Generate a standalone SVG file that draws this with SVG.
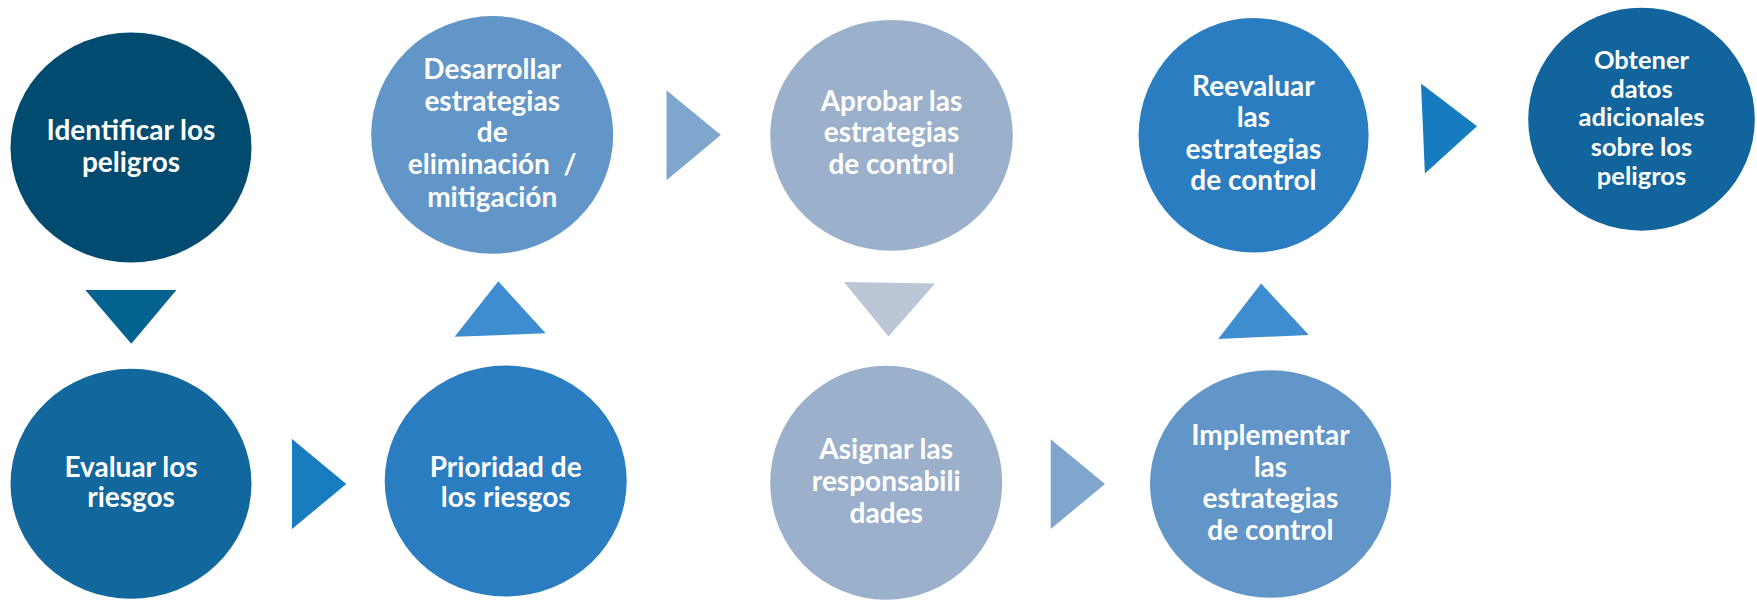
<svg xmlns="http://www.w3.org/2000/svg" width="1757" height="606" viewBox="0 0 1757 606">
<style>
.t{font-family:Lato,"Noto Sans","Liberation Sans",sans-serif;font-weight:bold;font-size:28px;fill:#ffffff;text-anchor:middle}
.s{font-size:25.5px}
</style>
<rect width="1757" height="606" fill="#ffffff"/>
<g id="connectors">
<polygon points="85.3,290.1 176.4,290.1 131.3,343.7" fill="#03628F"/>
<polygon points="292,439 292,528.9 346.3,484.1" fill="#177DBF"/>
<polygon points="454.6,336.8 498.3,281.3 545.7,333.3" fill="#3E8DD0"/>
<polygon points="666.5,90.3 666.5,180.3 720.8,135.1" fill="#7FA6CD"/>
<polygon points="844,282 935.1,283.6 888.5,336.4" fill="#BBC6D6"/>
<polygon points="1050.7,439.3 1050.7,528.9 1105,484.1" fill="#80A6CD"/>
<polygon points="1218.2,339.1 1261.1,283.6 1308.9,334.9" fill="#3E8DD0"/>
<polygon points="1421,83.4 1424.9,173.4 1477,126.3" fill="#177BBF"/>
</g>
<g id="n1">
<ellipse cx="131" cy="147.5" rx="120.5" ry="115" fill="#024B70"/>
<text class="t" x="131" y="140">Identificar los</text>
<text class="t" x="131" y="172">peligros</text>
</g>
<g id="n2">
<ellipse cx="131" cy="483.7" rx="120.5" ry="115" fill="#12679D"/>
<text class="t" x="131" y="476.5">Evaluar los</text>
<text class="t" x="131" y="507">riesgos</text>
</g>
<g id="n3">
<ellipse cx="505.7" cy="481" rx="121" ry="115.5" fill="#2B7DC1"/>
<text class="t" x="505.7" y="476.5">Prioridad de</text>
<text class="t" x="505.7" y="507">los riesgos</text>
</g>
<g id="n4">
<ellipse cx="492.2" cy="134.9" rx="121" ry="118.8" fill="#6296C8"/>
<text class="t" x="492.2" y="79.2">Desarrollar</text>
<text class="t" x="492.2" y="111">estrategias</text>
<text class="t" x="492.2" y="142.4">de</text>
<text class="t" x="492.2" y="174" xml:space="preserve">eliminación  /</text>
<text class="t" x="492.2" y="206.7">mitigación</text>
</g>
<g id="n5">
<ellipse cx="891.5" cy="135.3" rx="121.3" ry="115.4" fill="#9BB0CB"/>
<text class="t" x="891.5" y="111">Aprobar las</text>
<text class="t" x="891.5" y="142.4">estrategias</text>
<text class="t" x="891.5" y="174.1">de control</text>
</g>
<g id="n6">
<ellipse cx="886.2" cy="482.7" rx="116" ry="117" fill="#9BB0CB"/>
<text class="t" x="886.2" y="459.2">Asignar las</text>
<text class="t" x="886.2" y="491">responsabili</text>
<text class="t" x="886.2" y="523">dades</text>
</g>
<g id="n7">
<ellipse cx="1270.6" cy="484" rx="120.6" ry="113.7" fill="#6296C8"/>
<text class="t" x="1270.4" y="444.7">Implementar</text>
<text class="t" x="1270.4" y="476.5">las</text>
<text class="t" x="1270.4" y="508.2">estrategias</text>
<text class="t" x="1270.4" y="539.6">de control</text>
</g>
<g id="n8">
<ellipse cx="1253.6" cy="135.3" rx="115" ry="117.3" fill="#2B7DC1"/>
<text class="t" x="1253.4" y="95.7">Reevaluar</text>
<text class="t" x="1253.4" y="127.4">las</text>
<text class="t" x="1253.4" y="158.8">estrategias</text>
<text class="t" x="1253.4" y="190.2">de control</text>
</g>
<g id="n9">
<ellipse cx="1641.5" cy="119.2" rx="113.3" ry="111.5" fill="#12659C"/>
<text class="t s" x="1641.5" y="68.9">Obtener</text>
<text class="t s" x="1641.5" y="97.6">datos</text>
<text class="t s" x="1641.5" y="126.3">adicionales</text>
<text class="t s" x="1641.5" y="155.8">sobre los</text>
<text class="t s" x="1641.5" y="184.5">peligros</text>
</g>
</svg>
